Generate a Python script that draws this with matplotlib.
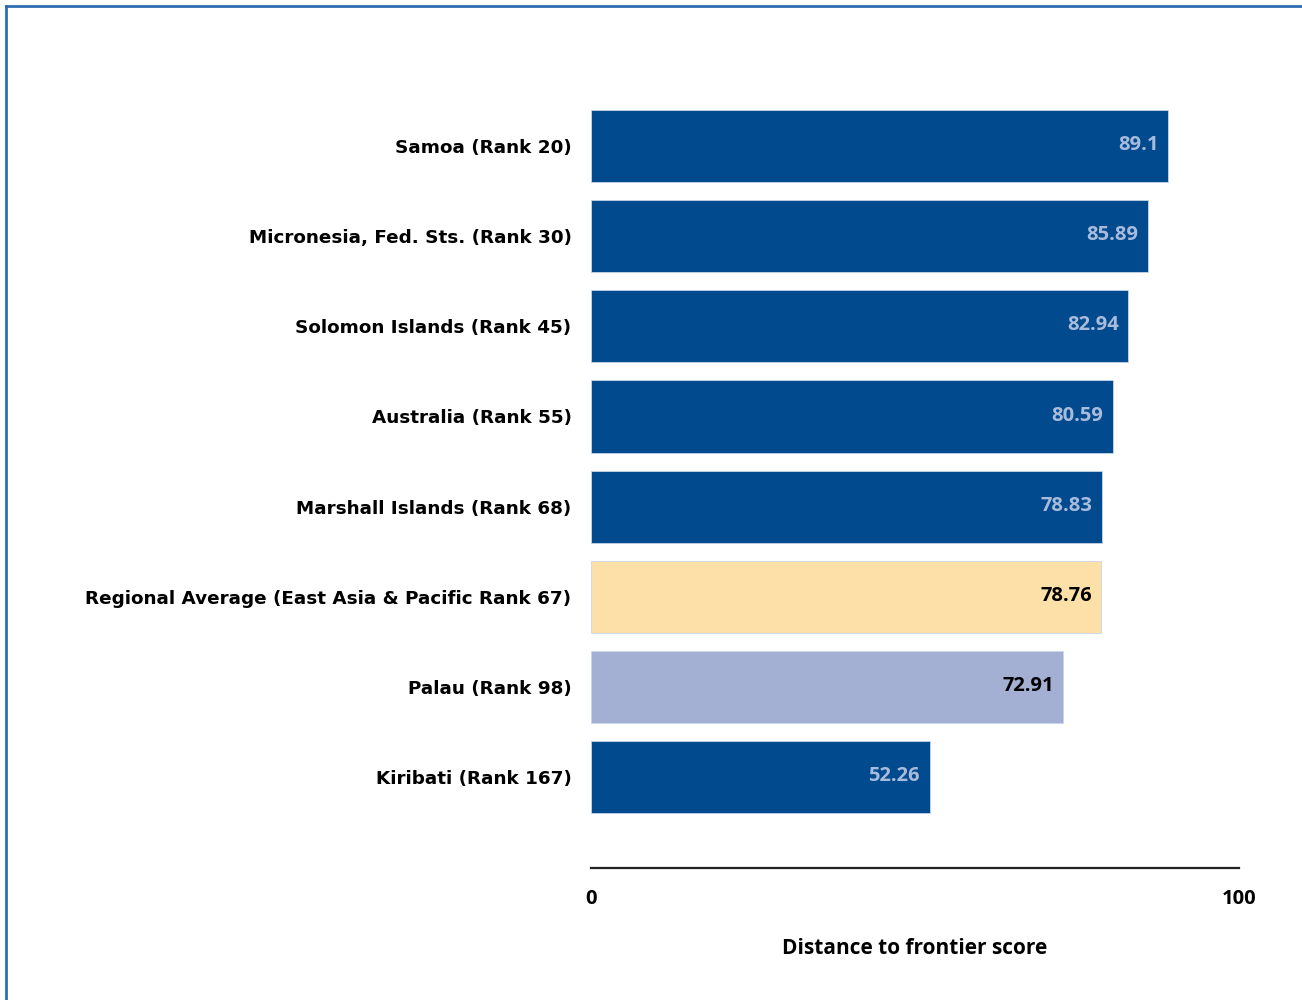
import matplotlib.pyplot as plt
from matplotlib.lines import Line2D

# scores per economy, top to bottom
labels = ["Samoa (Rank 20)", "Micronesia, Fed. Sts. (Rank 30)",
          "Solomon Islands (Rank 45)", "Australia (Rank 55)",
          "Marshall Islands (Rank 68)",
          "Regional Average (East Asia & Pacific Rank 67)",
          "Palau (Rank 98)", "Kiribati (Rank 167)"]
scores = [89.1, 85.89, 82.94, 80.59, 78.83, 78.76, 72.91, 52.26]
score_text = ["89.1", "85.89", "82.94", "80.59", "78.83", "78.76", "72.91", "52.26"]

dark_blue = "#004A8D"
avg_col = "#FDDFA8"
palau_col = "#A4B0D3"
bar_cols = [dark_blue] * 5 + [avg_col, palau_col, dark_blue]
txt_cols = ["#A9BBDD"] * 5 + ["black", "black", "#A9BBDD"]

fig = plt.figure(figsize=(13.02, 10), dpi=100)
ax = fig.add_axes([591 / 1302, 0.132, (1239 - 591) / 1302, 0.818])

pos = list(range(len(scores)))
ax.barh(pos, scores, height=0.8, color=bar_cols, edgecolor="#C9D6EA", linewidth=0.6)
for p, v, t, c in zip(pos, scores, score_text, txt_cols):
    ax.text(v - 1.5, p - 0.01, t, ha="right", va="center", color=c,
            fontsize=14.5, fontweight="bold", family="Open Sans")

ax.set_xlim(0, 100)
ax.set_ylim(7 + 1.011, -1.067)
ax.set_yticks(pos)
ax.set_yticklabels(labels, fontsize=13.2, fontweight="bold", family="DejaVu Sans")
ax.tick_params(axis="y", length=0, pad=14)
ax.set_xticks([0, 100])
ax.set_xticklabels(["0", "100"], fontsize=14.5, fontweight="bold", family="Open Sans")
ax.tick_params(axis="x", length=0, pad=15)
ax.set_xlabel("Distance to frontier score", fontsize=15, fontweight="bold",
              family="Open Sans", labelpad=21)

for s in ["top", "right", "left"]:
    ax.spines[s].set_visible(False)
ax.spines["bottom"].set_linewidth(1.6)
ax.spines["bottom"].set_color("#222222")

# outer frame on the left and top
fig.add_artist(Line2D([6 / 1302, 6 / 1302], [0, 1 - 6 / 1000],
                      transform=fig.transFigure, color="#2E6DB4", lw=2))
fig.add_artist(Line2D([6 / 1302, 1], [1 - 6 / 1000, 1 - 6 / 1000],
                      transform=fig.transFigure, color="#2E6DB4", lw=2))

fig.savefig("out.png", dpi=100)
